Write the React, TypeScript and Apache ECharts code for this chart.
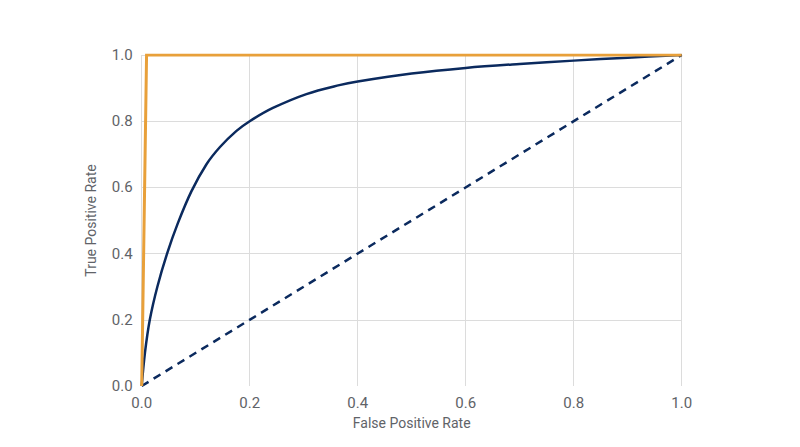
import React, { useEffect, useRef } from 'react';
import * as echarts from 'echarts';

// ROC curve
const rocFpr = [0, 0.006, 0.015, 0.029, 0.047, 0.067, 0.092, 0.12, 0.145, 0.175, 0.2, 0.243, 0.305, 0.366, 0.4, 0.5, 0.6, 0.7, 0.8, 0.9, 1];
const rocTpr = [0, 0.1, 0.2, 0.3, 0.4, 0.492, 0.588, 0.67, 0.722, 0.77, 0.8, 0.84, 0.882, 0.909, 0.92, 0.944, 0.961, 0.973, 0.983, 0.992, 1];

// perfect classifier
const perfectFpr = [0, 0.009, 1];
const perfectTpr = [0, 1, 1];

// random classifier
const randomFpr = [0, 1];
const randomTpr = [0, 1];

const tickValues = [0, 0.2, 0.4, 0.6, 0.8, 1.0];

const zip = (xs: number[], ys: number[]) => xs.map((x, i) => [x, ys[i]]);

const App: React.FC = () => {
  const chartRef = useRef<HTMLDivElement>(null);

  useEffect(() => {
    if (!chartRef.current) return;
    const chart = echarts.init(chartRef.current, null, { renderer: 'svg' });

    const labelStyle = {
      fontSize: 15,
      color: '#5f6368',
      fontFamily: 'Roboto',
    };
    const nameStyle = { fontSize: 14, color: '#5f6368', fontFamily: 'Roboto' };

    const option = {
      animation: false,
      grid: {
        left: 141.7,
        right: 118.3,
        top: 55,
        bottom: 61,
      },
      xAxis: {
        type: 'value',
        min: 0,
        max: 1,
        interval: 0.2,
        name: 'False Positive Rate',
        nameLocation: 'middle',
        nameGap: 30,
        nameTextStyle: nameStyle,
        axisLine: { show: false },
        axisTick: { show: false },
        axisLabel: {
          ...labelStyle,
          margin: 9,
          formatter: (v: number) => v.toFixed(1),
        },
        splitLine: { lineStyle: { color: '#dcdcdc', width: 1 } },
      },
      yAxis: {
        type: 'value',
        min: 0,
        max: 1,
        interval: 0.2,
        name: 'True Positive Rate',
        nameLocation: 'middle',
        nameGap: 44,
        nameTextStyle: nameStyle,
        axisLine: { show: false },
        axisTick: { show: false },
        axisLabel: {
          ...labelStyle,
          margin: 9,
          formatter: (v: number) => v.toFixed(1),
        },
        splitLine: {
          lineStyle: {
            // no line at 0.0
            color: tickValues.map((_, i) => (i === 0 ? 'rgba(0,0,0,0)' : '#dcdcdc')),
            width: 1,
          },
        },
      },
      series: [
        {
          name: 'Random',
          type: 'line',
          data: zip(randomFpr, randomTpr),
          showSymbol: false,
          lineStyle: { color: '#0b2a5e', width: 2.5, type: [8, 6] },
          z: 2,
        },
        {
          name: 'ROC',
          type: 'line',
          data: zip(rocFpr, rocTpr),
          smooth: 0.35,
          showSymbol: false,
          lineStyle: { color: '#0b2a5e', width: 2.5 },
          z: 3,
        },
        {
          name: 'Perfect',
          type: 'line',
          data: zip(perfectFpr, perfectTpr),
          showSymbol: false,
          lineStyle: { color: '#e8a03a', width: 3, join: 'miter' },
          z: 4,
        },
      ],
    };

    chart.setOption(option);

    return () => {
      chart.dispose();
    };
  }, []);

  return (
    <div
      ref={chartRef}
      style={{
        position: 'fixed',
        left: 0,
        top: 0,
        width: '800px',
        height: '447px',
        background: '#fff',
      }}
    />
  );
};

export default App;
